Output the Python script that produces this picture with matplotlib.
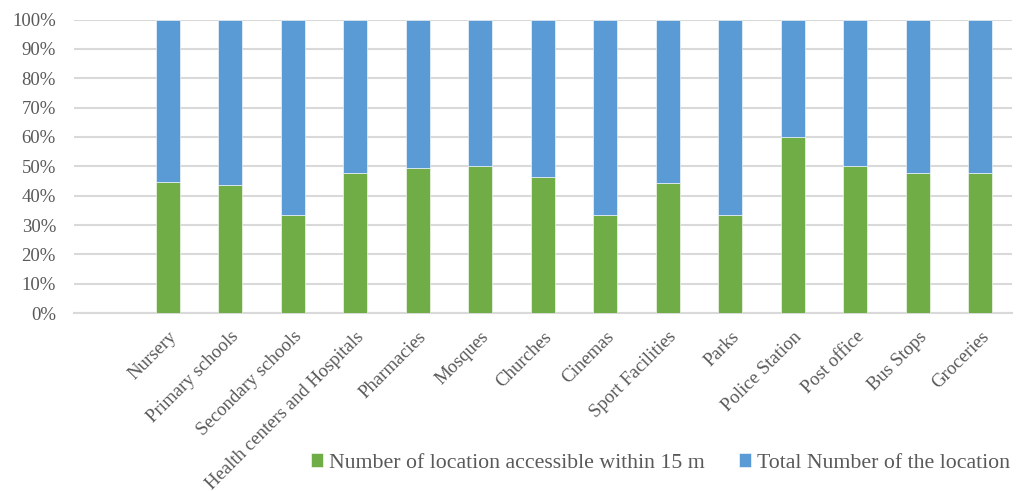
import matplotlib
matplotlib.use('Agg')
import matplotlib.pyplot as plt
import numpy as np

# categories (first slot is empty in the original chart)
categories = ['', 'Nursery', 'Primary schools', 'Secondary schools', 'Health centers and Hospitals',
              'Pharmacies', 'Mosques', 'Churches', 'Cinemas', 'Sport Facilities', 'Parks',
              'Police Station', 'Post office', 'Bus Stops', 'Groceries']
# share (%) of each series in the 100% stacked bar
accessible = [0, 44.6, 43.8, 33.3, 47.6, 49.4, 50.0, 46.2, 33.3, 44.2, 33.3, 60.0, 50.0, 47.6, 47.6]
total = [0 if a == 0 else 100 - a for a in accessible]

GREEN = '#70AD47'
BLUE = '#5B9BD5'
TXT = '#595959'
GRID = '#D9D9D9'

plt.rcParams['font.family'] = ['Liberation Serif', 'DejaVu Serif']

fig = plt.figure(figsize=(10.25, 4.91), dpi=100)
ax = fig.add_axes([0.0722, 0.3625, 0.9148, 0.5975])

x = np.arange(len(categories))
w = 0.385
b1 = ax.bar(x, accessible, w, color=GREEN, edgecolor='white', linewidth=0.4,
            label='Number of location accessible within 15 m', zorder=3)
b2 = ax.bar(x, total, w, bottom=accessible, color=BLUE, edgecolor='white', linewidth=0.4,
            label='Total Number of the location', zorder=3)

ax.set_xlim(-0.5, len(categories) - 0.5)
ax.set_ylim(0, 100)
ax.set_yticks(np.arange(0, 101, 10))
ax.set_yticklabels(['%d%%' % v for v in range(0, 101, 10)])
ax.set_xticks(x)
ax.set_xticklabels(categories, rotation=45, ha='right', rotation_mode='anchor')
ax.grid(axis='y', color=GRID, linewidth=1.5, zorder=0)
ax.tick_params(length=0, colors=TXT)
ax.tick_params(axis='y', pad=13, labelsize=13.5)
ax.tick_params(axis='x', pad=11, labelsize=13.5)
for s in ['top', 'right', 'left']:
    ax.spines[s].set_visible(False)
ax.spines['bottom'].set_color(GRID)
ax.spines['bottom'].set_linewidth(1.5)

leg = fig.legend(handles=[b1, b2], loc='center right', bbox_to_anchor=(1.0, 0.057), ncol=2,
                 frameon=False, fontsize=15.7, handlelength=0.55, handleheight=0.55,
                 handletextpad=0.25, columnspacing=1.6, borderpad=0.2)
for t in leg.get_texts():
    t.set_color(TXT)

fig.savefig('out.png', dpi=100)
